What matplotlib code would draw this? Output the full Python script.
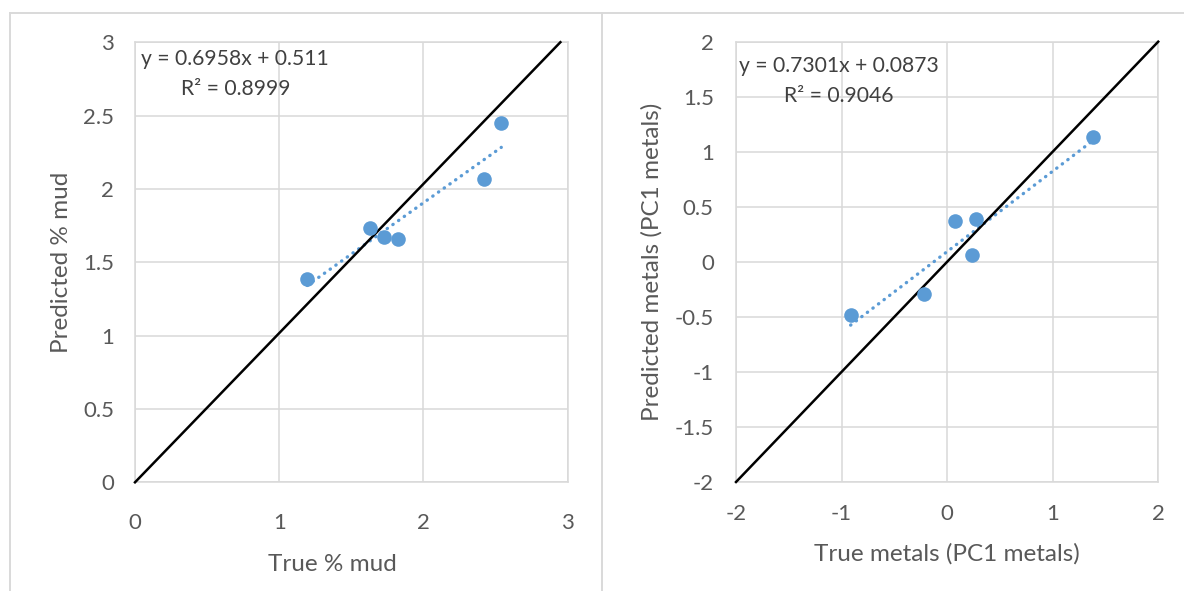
import matplotlib.pyplot as plt
import numpy as np
from matplotlib.lines import Line2D

# left chart: % mud
mud_true = [1.195, 1.630, 1.725, 1.824, 2.422, 2.540]
mud_pred = [1.384, 1.731, 1.675, 1.660, 2.065, 2.451]
mud_eq = "y = 0.6958x + 0.511"
mud_r2 = "R² = 0.8999"
mud_one2one = [0, 2.95]
mud_one2one_y = [0, 3]

# right chart: metals (PC1)
met_true = [-0.914, -0.215, 0.079, 0.275, 0.233, 1.387]
met_pred = [-0.485, -0.296, 0.372, 0.390, 0.061, 1.131]
met_eq = "y = 0.7301x + 0.0873"
met_r2 = "R² = 0.9046"
met_one2one = [-2, 2]
met_one2one_y = [-2, 2]

W, H = 1184, 591
BLUE = '#5b9bd5'
GRID = '#d9d9d9'
TICK = '#595959'
EQ = '#404040'

plt.rcParams['font.family'] = ['Lato', 'DejaVu Sans']


def fx(px):
    return px / W


def fy(py):
    return 1 - py / H


def draw_panel(ax, xs, ys, diag_x, diag_y, xlim, ylim, xstep, ystep,
               xlabel, ylabel, xpad, ypad):
    ax.set_xlim(*xlim)
    ax.set_ylim(*ylim)
    ax.set_xticks(np.arange(xlim[0], xlim[1] + 0.01, xstep))
    ax.set_yticks(np.arange(ylim[0], ylim[1] + 0.01, ystep))
    ax.xaxis.set_major_formatter(plt.FuncFormatter(lambda v, p: '%g' % v))
    ax.yaxis.set_major_formatter(plt.FuncFormatter(lambda v, p: '%g' % v))
    ax.grid(True, color=GRID, linewidth=1.1, zorder=0)
    ax.set_axisbelow(True)
    for s in ax.spines.values():
        s.set_color(GRID)
        s.set_linewidth(1.1)
    ax.tick_params(length=0, labelsize=16, colors=TICK)
    ax.tick_params(axis='x', pad=xpad)
    ax.tick_params(axis='y', pad=ypad)

    ax.plot(diag_x, diag_y, color='black', linewidth=1.8, zorder=3,
            clip_on=False)
    # linear trendline over the data range
    k, b = np.polyfit(xs, ys, 1)
    tx = np.array([min(xs), max(xs)])
    ax.plot(tx, k * tx + b, color=BLUE, linewidth=2.4,
            linestyle=(0, (0.1, 2.0)), dash_capstyle='round', zorder=2)
    ax.plot(xs, ys, 'o', color=BLUE, markersize=10.5, markeredgewidth=0,
            zorder=4)
    ax.set_xlabel(xlabel, fontsize=17.5, color=TICK)
    ax.set_ylabel(ylabel, fontsize=17.5, color=TICK)


fig = plt.figure(figsize=(W / 100, H / 100), dpi=100)

ax1 = fig.add_axes([fx(135), fy(482.3), fx(567.6 - 135), (482.3 - 42.2) / H])
draw_panel(ax1, mud_true, mud_pred, mud_one2one, mud_one2one_y,
           (0, 3), (0, 3), 1, 0.5, "True % mud", "Predicted % mud",
           xpad=22, ypad=15)
ax1.xaxis.set_label_coords((332 - 135) / (567.6 - 135),
                           -(554 - 482.3) / (482.3 - 42.2))
ax1.yaxis.set_label_coords(-(135 - 72) / (567.6 - 135), 0.5)
fig.text(fx(141), fy(59), mud_eq, fontsize=15.2, color=EQ, va='center', ha='left')
fig.text(fx(181), fy(89), mud_r2, fontsize=15.2, color=EQ, va='center', ha='left')

ax2 = fig.add_axes([fx(736), fy(482), fx(1158.2 - 736), (482 - 41.7) / H])
draw_panel(ax2, met_true, met_pred, met_one2one, met_one2one_y,
           (-2, 2), (-2, 2), 1, 0.5, "True metals (PC1 metals)",
           "Predicted metals (PC1 metals)", xpad=16, ypad=16)
ax2.xaxis.set_label_coords(0.5, -(543 - 482) / (482 - 41.7))
ax2.yaxis.set_label_coords(-(736 - 663) / (1158.2 - 736), 0.5)
fig.text(fx(739), fy(66), met_eq, fontsize=15.2, color=EQ, va='center', ha='left')
fig.text(fx(784), fy(96), met_r2, fontsize=15.2, color=EQ, va='center', ha='left')

# chart-area frames
for (x0, y0, x1, y1) in [(10, 13, W, 13), (10, 13, 10, H), (602, 13, 602, H)]:
    fig.add_artist(Line2D([fx(x0), fx(x1)], [fy(y0), fy(y1)], color=GRID,
                          linewidth=1.4, transform=fig.transFigure))

fig.savefig('out.png', dpi=100)
